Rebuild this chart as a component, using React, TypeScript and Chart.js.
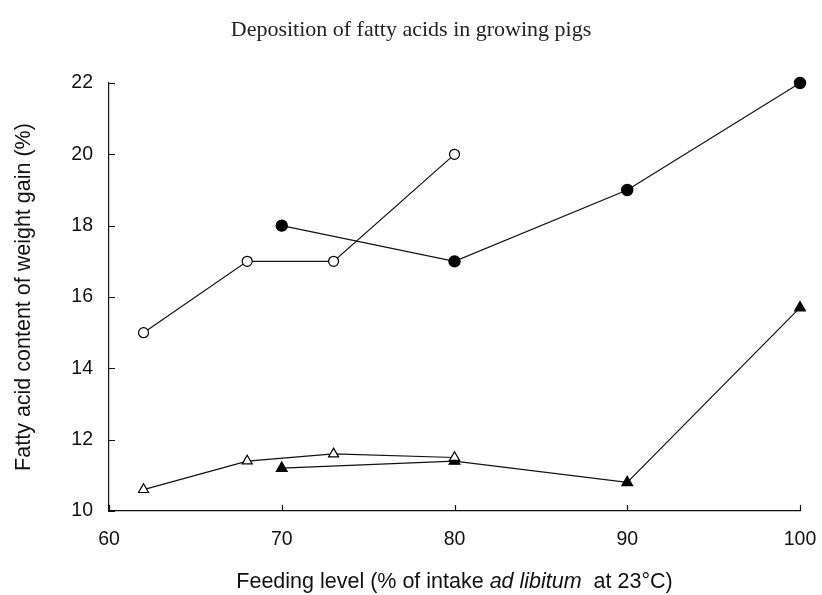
import React, { useEffect, useRef } from "react";
import { Chart, registerables } from "chart.js";

Chart.register(...registerables);

// ---- data ----
const openCircleX = [62, 68, 73, 80];
const openCircleY = [15, 17, 17, 20];
const filledCircleX = [70, 80, 90, 100];
const filledCircleY = [18, 17, 19, 22];
const openTriangleX = [62, 68, 73, 80];
const openTriangleY = [10.6, 11.4, 11.6, 11.5];
const filledTriangleX = [70, 80, 90, 100];
const filledTriangleY = [11.2, 11.4, 10.8, 15.7];

const xTicks = [60, 70, 80, 90, 100];
const yTicks = [10, 12, 14, 16, 18, 20, 22];

const chartTitle = "Deposition of fatty acids in growing pigs";
const yTitle = "Fatty acid content of weight gain (%)";
const xTitleParts = [
  { text: "Feeding level (% of intake ", italic: false },
  { text: "ad libitum", italic: true },
  { text: "  at 23\u00B0C)", italic: false },
];

const SANS = "'Liberation Sans', Arial, sans-serif";
const SERIF = "'Liberation Serif', 'Times New Roman', serif";
const FS = 19.5; // tick labels
const TS = 21.5; // axis titles

const toPts = (xs: number[], ys: number[]) => xs.map((x, i) => ({ x, y: ys[i] }));

const innerTicks = {
  id: "innerTicks",
  afterDraw(chart: any) {
    const { ctx, chartArea, scales } = chart;
    ctx.save();
    ctx.strokeStyle = "#111";
    ctx.lineWidth = 1.2;
    ctx.beginPath();
    scales.x.ticks.forEach((t: any) => {
      const px = Math.round(scales.x.getPixelForValue(t.value)) + 0.5;
      ctx.moveTo(px, chartArea.bottom);
      ctx.lineTo(px, chartArea.bottom - 6);
    });
    scales.y.ticks.forEach((t: any) => {
      const py = Math.round(scales.y.getPixelForValue(t.value)) + 0.5;
      ctx.moveTo(chartArea.left, py);
      ctx.lineTo(chartArea.left + 6, py);
    });
    ctx.stroke();
    ctx.restore();
  },
};

const texts = {
  id: "texts",
  afterDraw(chart: any) {
    const { ctx, chartArea, scales, width } = chart;
    ctx.save();
    ctx.fillStyle = "#222";
    ctx.textBaseline = "middle";
    ctx.textAlign = "center";
    ctx.font = `22px ${SERIF}`;
    ctx.fillText(chartTitle, width / 2, 30);

    ctx.fillStyle = "#111";
    ctx.textAlign = "left";
    const fonts = xTitleParts.map((p) => `${p.italic ? "italic " : ""}${TS}px ${SANS}`);
    const widths = xTitleParts.map((p, i) => {
      ctx.font = fonts[i];
      return ctx.measureText(p.text).width;
    });
    const total = widths.reduce((a, b) => a + b, 0);
    let x = (chartArea.left + chartArea.right) / 2 - total / 2;
    const y = scales.x.bottom - 13;
    xTitleParts.forEach((p, i) => {
      ctx.font = fonts[i];
      ctx.fillText(p.text, x, y);
      x += widths[i];
    });
    ctx.restore();
  },
};

export default function App() {
  const ref = useRef<HTMLCanvasElement>(null);

  useEffect(() => {
    if (!ref.current) return;
    const line = (data: any[], pointStyle: string, filled: boolean, r: number) => ({
      data,
      showLine: true,
      clip: false,
      borderColor: "#111",
      borderWidth: 1.2,
      pointStyle,
      pointRadius: r,
      pointBackgroundColor: filled ? "#000" : "#fff",
      pointBorderColor: "#000",
      pointBorderWidth: 1.2,
      fill: false,
      tension: 0,
    });
    const chart = new Chart(ref.current, {
      type: "scatter",
      data: {
        datasets: [
          line(toPts(openCircleX, openCircleY), "circle", false, 5),
          line(toPts(filledCircleX, filledCircleY), "circle", true, 5.6),
          line(toPts(openTriangleX, openTriangleY), "triangle", false, 5.8),
          line(toPts(filledTriangleX, filledTriangleY), "triangle", true, 6.2),
        ] as any,
      },
      options: {
        animation: false,
        responsive: false,
        maintainAspectRatio: false,
        devicePixelRatio: 1,
        layout: { padding: { left: 0, right: 22, top: 83, bottom: 0 } },
        plugins: {
          legend: { display: false },
          tooltip: { enabled: false },
          title: { display: false },
        },
        scales: {
          x: {
            type: "linear",
            min: 60,
            max: 100,
            afterBuildTicks: (s: any) => {
              s.ticks = xTicks.map((v) => ({ value: v }));
            },
            afterFit: (s: any) => {
              s.height = 84;
              s.paddingLeft = 0;
              s.paddingRight = 0;
            },
            grid: { display: true, drawOnChartArea: false, drawTicks: false },
            border: { display: true, color: "#111", width: 1.2 },
            ticks: {
              color: "#111",
              padding: 17,
              font: { family: SANS, size: FS },
              maxRotation: 0,
            },
          },
          y: {
            type: "linear",
            min: 10,
            max: 22,
            afterBuildTicks: (s: any) => {
              s.ticks = yTicks.map((v) => ({ value: v }));
            },
            afterFit: (s: any) => {
              s.width = 109;
              s.paddingTop = 0;
              s.paddingBottom = 0;
            },
            grid: { display: true, drawOnChartArea: false, drawTicks: false },
            border: { display: true, color: "#111", width: 1.2 },
            ticks: {
              color: "#111",
              padding: 16,
              font: { family: SANS, size: FS },
            },
            title: {
              display: true,
              text: yTitle,
              color: "#111",
              font: { family: SANS, size: TS },
              padding: { top: 11, bottom: 0 },
            },
          },
        },
      } as any,
      plugins: [innerTicks, texts],
    });
    return () => chart.destroy();
  }, []);

  return (
    <div style={{ position: "fixed", left: 0, top: 0, width: 822, height: 595, background: "#fff" }}>
      <canvas ref={ref} width={822} height={595} />
    </div>
  );
}
